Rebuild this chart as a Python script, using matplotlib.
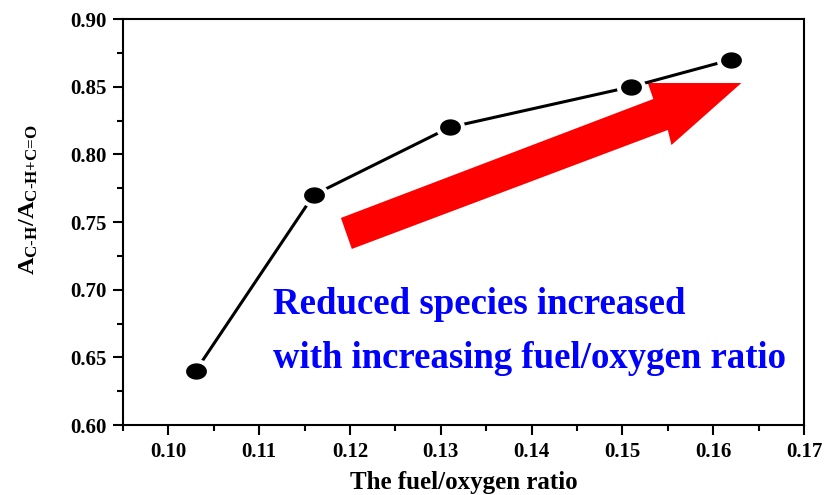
import numpy as np
import matplotlib.pyplot as plt
from matplotlib.path import Path
from matplotlib.transforms import Affine2D
from matplotlib.patches import Polygon
from matplotlib.ticker import MultipleLocator

plt.rcParams['font.family'] = ['Liberation Serif', 'DejaVu Serif']
plt.rcParams['font.weight'] = 'bold'
plt.rcParams['mathtext.fontset'] = 'custom'
plt.rcParams['mathtext.rm'] = 'Liberation Serif:bold'
plt.rcParams['mathtext.bf'] = 'Liberation Serif:bold'
plt.rcParams['mathtext.it'] = 'Liberation Serif:bold'

# fuel/oxygen ratio vs. C-H fraction of the C-H + C=O band area
ratio = [0.103, 0.116, 0.131, 0.151, 0.162]
area_frac = [0.64, 0.77, 0.82, 0.85, 0.87]

# trend arrow outline (data coords)
arrow_x = [0.1190, 0.1534, 0.1528, 0.1631, 0.1554, 0.1550, 0.1202]
arrow_y = [0.7530, 0.8409, 0.8527, 0.8527, 0.8069, 0.8180, 0.7301]

fig = plt.figure(figsize=(8.26, 4.95), dpi=100)
ax = fig.add_axes([0.1489, 0.1414, 0.8245, 0.8202])

# slightly flattened dot
oval = Path.unit_circle().transformed(Affine2D().scale(1.22, 1.0))

ax.add_patch(Polygon(np.column_stack([arrow_x, arrow_y]), closed=True,
                     facecolor='#ff0000', edgecolor='none', zorder=2))

ax.plot(ratio, area_frac, color='black', lw=2.2, marker=oval, ms=18,
        mfc='black', mec='white', mew=3.0, zorder=3)

ax.text(0.1115, 0.689, 'Reduced species increased', color='#0000ff',
        fontsize=26.5, fontweight='bold', va='center', ha='left')
ax.text(0.1115, 0.649, 'with increasing fuel/oxygen ratio', color='#0000ff',
        fontsize=26.5, fontweight='bold', va='center', ha='left')

ax.set_xlim(0.095, 0.17)
ax.set_ylim(0.60, 0.90)
ax.xaxis.set_minor_locator(MultipleLocator(0.005))
ax.yaxis.set_major_locator(MultipleLocator(0.05))
ax.yaxis.set_minor_locator(MultipleLocator(0.025))
ax.set_xticks([0.10, 0.11, 0.12, 0.13, 0.14, 0.15, 0.16, 0.17])
ax.xaxis.set_major_formatter(plt.FormatStrFormatter('%.2f'))
ax.yaxis.set_major_formatter(plt.FormatStrFormatter('%.2f'))

ax.tick_params(which='major', direction='out', length=7, width=1.5,
               labelsize=15, pad=5)
ax.tick_params(which='minor', direction='out', length=4, width=1.5)
ax.tick_params(top=False, right=False)
for s in ax.spines.values():
    s.set_linewidth(1.5)

ax.set_xlabel('The fuel/oxygen ratio', fontsize=18, fontweight='bold', labelpad=7)
ax.set_ylabel(r'$\mathbf{A}_{\text{C-H}}/\mathbf{A}_{\text{C-H+C=O}}$', fontsize=17.5)
ax.yaxis.set_label_coords(-0.122, 0.555)

fig.savefig('out.png', dpi=100)
